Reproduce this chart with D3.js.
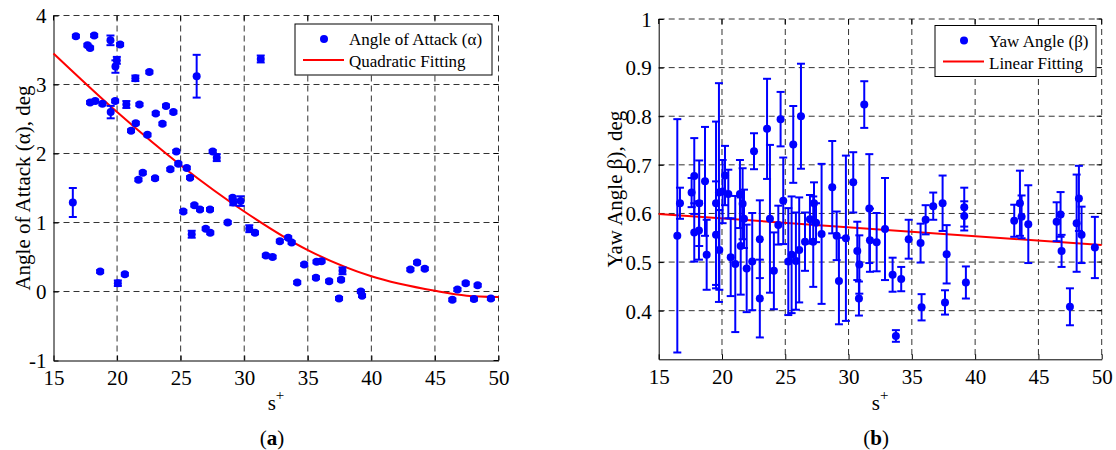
<!DOCTYPE html>
<html>
<head>
<meta charset="utf-8">
<script src="https://cdn.jsdelivr.net/npm/d3@7"></script>
<style>
  body { margin: 0; background: #fff; }
  svg text { font-family: "Liberation Serif", "Times New Roman", serif; fill: #000; }
</style>
</head>
<body>
<div id="chart"></div>
<script>
// ---- data ----
var xTicks = [15, 20, 25, 30, 35, 40, 45, 50];
var alphaTicks = [-1, 0, 1, 2, 3, 4];
var betaTicks = [0.4, 0.5, 0.6, 0.7, 0.8, 0.9, 1];

// (a) angle of attack: s+, alpha (deg), error half-height
var alphaX = [16.76, 18.2, 17.67, 17.88, 19.48, 20.24, 19.98, 19.87, 21.44, 22.54,
	      26.26, 31.3, 17.88, 18.28, 18.85, 19.5, 19.85, 20.73, 21.76, 23.04,
	      23.85, 24.43, 21.47, 23.57, 21.1, 22.39, 24.66, 27.52, 27.84, 24.82,
	      25.48, 24.19, 25.74, 22.02, 21.68, 22.99, 16.52, 18.67, 20.06, 20.61,
	      25.21, 26.08, 26.52, 27.31, 25.87, 26.97, 27.33, 28.7, 29.09, 29.14,
	      29.72, 30.4, 30.85, 31.7, 32.23, 32.8, 33.46, 33.73, 34.72, 34.17,
	      35.69, 36.08, 35.64, 36.68, 37.73, 37.62, 37.46, 39.17, 39.27, 43.07,
	      43.6, 44.2, 46.37, 46.77, 47.42, 48.36, 48.07, 49.4];
var alphaY = [3.70, 3.71, 3.57, 3.53, 3.64, 3.58, 3.35, 3.26, 3.09, 3.18,
	      3.12, 3.37, 2.74, 2.76, 2.72, 2.60, 2.76, 2.71, 2.71, 2.58,
	      2.69, 2.60, 2.44, 2.43, 2.33, 2.27, 2.03, 2.03, 1.94, 1.85,
	      1.79, 1.77, 1.65, 1.72, 1.62, 1.64, 1.29, 0.29, 0.12, 0.25,
	      1.16, 1.25, 1.19, 1.19, 0.83, 0.91, 0.85, 1.00, 1.36, 1.29,
	      1.31, 0.91, 0.85, 0.52, 0.50, 0.73, 0.78, 0.71, 0.39, 0.13,
	      0.43, 0.44, 0.20, 0.15, 0.30, 0.17, -0.10, 0.00, -0.06, 0.32,
	      0.42, 0.33, -0.12, 0.03, 0.12, 0.09, -0.11, -0.10];
var alphaErr = [0.02, 0.02, 0.02, 0.02, 0.07, 0.02, 0.05, 0.09, 0.04, 0.02,
		0.31, 0.05, 0.02, 0.02, 0.02, 0.09, 0.02, 0.05, 0.02, 0.02,
		0.02, 0.02, 0.02, 0.02, 0.02, 0.02, 0.02, 0.02, 0.05, 0.02,
		0.02, 0.02, 0.02, 0.02, 0.02, 0.02, 0.21, 0.02, 0.04, 0.02,
		0.02, 0.02, 0.02, 0.02, 0.05, 0.02, 0.02, 0.02, 0.02, 0.04,
		0.07, 0.05, 0.02, 0.02, 0.02, 0.02, 0.02, 0.02, 0.02, 0.02,
		0.02, 0.02, 0.02, 0.02, 0.05, 0.02, 0.02, 0.02, 0.02, 0.02,
		0.02, 0.02, 0.02, 0.02, 0.02, 0.02, 0.02, 0.02];
// quadratic fitting curve
var quadX = [15, 20, 25, 30, 35, 40, 45, 47.5, 50];
var quadY = [3.45, 2.60, 1.83, 1.16, 0.60, 0.22, 0.01, -0.06, -0.08];

// (b) yaw angle: s+, beta (deg), error half-height
var betaX = [16.47, 16.68, 17.6, 17.81, 18.2, 18.66, 19.53, 19.76, 20.05, 20.24,
	     20.5, 21.42, 21.63, 22.53, 23.56, 24.63, 25.63, 26.24, 31.24, 24.84,
	     27.27, 28.71, 30.37, 31.64, 17.81, 18.18, 18.79, 19.53, 19.79, 20.69,
	     21.05, 21.48, 21.74, 21.95, 22.39, 22.99, 22.99, 23.79, 24.1, 24.45,
	     25.24, 25.5, 25.84, 26.1, 26.56, 26.95, 27.21, 27.43, 27.87, 29.06,
	     29.24, 29.79, 30.69, 30.85, 30.82, 31.69, 32.22, 32.88, 33.48, 34.16,
	     33.74, 34.75, 35.69, 36.09, 35.77, 36.69, 37.43, 37.75, 37.62, 39.14,
	     39.14, 39.27, 43.09, 43.54, 43.67, 44.2, 46.44, 46.75, 46.83, 47.49,
	     48.02, 48.2, 48.41, 49.46];
var betaY = [0.554, 0.621, 0.643, 0.677, 0.621, 0.666, 0.621, 0.643, 0.645, 0.678,
	     0.640, 0.640, 0.620, 0.728, 0.774, 0.794, 0.742, 0.800, 0.824, 0.626,
	     0.621, 0.654, 0.664, 0.610, 0.561, 0.565, 0.515, 0.556, 0.525, 0.510,
	     0.496, 0.533, 0.589, 0.487, 0.501, 0.425, 0.547, 0.589, 0.482, 0.576,
	     0.501, 0.515, 0.502, 0.525, 0.542, 0.588, 0.542, 0.581, 0.558, 0.554,
	     0.461, 0.549, 0.523, 0.495, 0.425, 0.545, 0.541, 0.568, 0.474, 0.465,
	     0.348, 0.547, 0.539, 0.587, 0.407, 0.615, 0.621, 0.516, 0.417, 0.613,
	     0.595, 0.458, 0.585, 0.621, 0.593, 0.578, 0.583, 0.598, 0.523, 0.408,
	     0.580, 0.631, 0.556, 0.530];
var betaErr = [0.240, 0.032, 0.030, 0.078, 0.088, 0.112, 0.168, 0.225, 0.065, 0.061,
	       0.050, 0.070, 0.073, 0.037, 0.103, 0.056, 0.079, 0.108, 0.048, 0.089,
	       0.043, 0.095, 0.062, 0.112, 0.060, 0.060, 0.072, 0.110, 0.082, 0.080,
	       0.140, 0.100, 0.060, 0.090, 0.100, 0.080, 0.080, 0.152, 0.079, 0.040,
	       0.110, 0.120, 0.100, 0.108, 0.060, 0.050, 0.093, 0.040, 0.144, 0.050,
	       0.089, 0.170, 0.060, 0.060, 0.035, 0.065, 0.060, 0.105, 0.035, 0.025,
	       0.012, 0.040, 0.040, 0.030, 0.027, 0.028, 0.057, 0.060, 0.025, 0.040,
	       0.030, 0.033, 0.033, 0.067, 0.044, 0.080, 0.040, 0.046, 0.033, 0.038,
	       0.100, 0.067, 0.058, 0.063];
// linear fitting line end points
var linX = [15, 50];
var linY = [0.599, 0.535];

// ---- drawing ----
var serif = '"Liberation Serif", "Times New Roman", serif';

var svg = d3.select("#chart")
    .append("svg")
    .attr("width", 1116)
    .attr("height", 450);

function draw_panel(p) {
    var x = d3.scaleLinear().domain([15, 50]).range([p.left, p.right]);
    var y = d3.scaleLinear().domain(p.ydomain).range([p.bottom, p.top]);
    var g = svg.append("g");

    // dashed grid (top and right edge included)
    g.append("g").selectAll("line")
	.data(xTicks.slice(1))
	.enter().append("line")
	.attr("x1", d => x(d)).attr("x2", d => x(d))
	.attr("y1", p.top).attr("y2", p.bottom)
	.attr("stroke", "#333").attr("stroke-dasharray", "6,4");
    g.append("g").selectAll("line")
	.data(p.yticks.filter(d => d != p.ydomain[0]))
	.enter().append("line")
	.attr("x1", p.left).attr("x2", p.right)
	.attr("y1", d => y(d)).attr("y2", d => y(d))
	.attr("stroke", "#333").attr("stroke-dasharray", "6,4");

    // axes, ticks pointing inward
    var xa = g.append("g")
	.attr("transform", "translate(0," + p.bottom + ")")
	.call(d3.axisBottom(x).tickValues(xTicks).tickFormat(d => String(d))
	      .tickSizeInner(-5).tickSizeOuter(0).tickPadding(8));
    var ya = g.append("g")
	.attr("transform", "translate(" + p.left + ",0)")
	.call(d3.axisLeft(y).tickValues(p.yticks).tickFormat(p.fmt)
	      .tickSizeInner(-5).tickSizeOuter(0).tickPadding(7));
    [xa, ya].forEach(function(a) {
	a.selectAll("text")
	    .style("font-family", serif)
	    .style("font-size", "21px");
	a.select(".domain").attr("stroke", "#000");
    });
    xa.selectAll("text").attr("dy", "0.8em");
    ya.selectAll("text").attr("dy", "0.35em");
    // ticks on top and right
    g.append("g").selectAll("line").data(xTicks).enter().append("line")
	.attr("x1", d => x(d)).attr("x2", d => x(d))
	.attr("y1", p.top).attr("y2", p.top + 5).attr("stroke", "#000");
    g.append("g").selectAll("line").data(p.yticks).enter().append("line")
	.attr("x1", p.right - 5).attr("x2", p.right)
	.attr("y1", d => y(d)).attr("y2", d => y(d)).attr("stroke", "#000");

    // fitted curve
    var fit = d3.line()
	.x(d => x(d[0])).y(d => y(d[1]))
	.curve(d3.curveMonotoneX);
    g.append("path")
	.datum(d3.zip(p.fitX, p.fitY))
	.attr("d", fit)
	.attr("fill", "none")
	.attr("stroke", "#ff0000")
	.attr("stroke-width", 2);

    // error bars + points
    var pts = d3.zip(p.px, p.py, p.pe);
    var eb = g.append("g").attr("stroke", "#0000ff").attr("stroke-width", 2);
    pts.forEach(function(d) {
	var cx = x(d[0]), y1 = y(d[1] + d[2]), y2 = y(d[1] - d[2]);
	eb.append("line").attr("x1", cx).attr("x2", cx).attr("y1", y1).attr("y2", y2);
	eb.append("line").attr("x1", cx - 4).attr("x2", cx + 4).attr("y1", y1).attr("y2", y1);
	eb.append("line").attr("x1", cx - 4).attr("x2", cx + 4).attr("y1", y2).attr("y2", y2);
    });
    g.append("g").selectAll("circle")
	.data(pts)
	.enter().append("circle")
	.attr("cx", d => x(d[0]))
	.attr("cy", d => y(d[1]))
	.attr("r", 4)
	.attr("fill", "#0000ff");

    // legend
    var L = p.legend;
    var lg = g.append("g");
    lg.append("rect")
	.attr("x", L.x).attr("y", L.y).attr("width", L.w).attr("height", 51)
	.attr("fill", "#fff").attr("stroke", "#000").attr("stroke-width", 1);
    lg.append("circle").attr("cx", L.x + 29).attr("cy", L.y + 15).attr("r", 4).attr("fill", "#0000ff");
    lg.append("line")
	.attr("x1", L.x + 8).attr("x2", L.x + 49)
	.attr("y1", L.y + 36).attr("y2", L.y + 36)
	.attr("stroke", "#ff0000").attr("stroke-width", 2);
    lg.append("text").attr("x", L.x + 54).attr("y", L.y + 21)
	.style("font-size", "17px").text(L.labels[0]);
    lg.append("text").attr("x", L.x + 54).attr("y", L.y + 43)
	.style("font-size", "17px").text(L.labels[1]);

    // axis titles
    var mid = (p.left + p.right) / 2;
    var xl = g.append("text")
	.attr("x", mid).attr("y", 410)
	.attr("text-anchor", "middle")
	.style("font-size", "21px");
    xl.append("tspan").text("s");
    xl.append("tspan").attr("dy", -10).style("font-size", "15px").text("+");
    g.append("text")
	.attr("transform", "translate(" + p.ylabelX + "," + ((p.top + p.bottom) / 2) + ") rotate(-90)")
	.attr("text-anchor", "middle")
	.style("font-size", "21px")
	.text(p.ylabel);

    // panel caption
    var cap = g.append("text")
	.attr("x", mid - 4).attr("y", 445)
	.attr("text-anchor", "middle")
	.style("font-size", "21px");
    cap.append("tspan").text("(");
    cap.append("tspan").style("font-weight", "bold").text(p.caption);
    cap.append("tspan").text(")");
}

draw_panel({
    left: 53.5, right: 498.5, top: 15.5, bottom: 360.5,
    ydomain: [-1, 4], yticks: alphaTicks, fmt: d => String(d),
    px: alphaX, py: alphaY, pe: alphaErr,
    fitX: quadX, fitY: quadY,
    legend: {x: 295, y: 24, w: 197, labels: ["Angle of Attack (\u03b1)", "Quadratic Fitting"]},
    ylabel: "Angle of Attack (\u03b1), deg", ylabelX: 30,
    caption: "a"
});

draw_panel({
    left: 658.7, right: 1101.7, top: 19, bottom: 359.3,
    ydomain: [0.3, 1], yticks: betaTicks, fmt: d => d == 1 ? "1" : d3.format(".1f")(d),
    px: betaX, py: betaY, pe: betaErr,
    fitX: linX, fitY: linY,
    legend: {x: 935, y: 25.5, w: 161, labels: ["Yaw Angle (\u03b2)", "Linear Fitting"]},
    ylabel: "Yaw Angle \u03b2), deg", ylabelX: 622,
    caption: "b"
});
</script>
</body>
</html>
